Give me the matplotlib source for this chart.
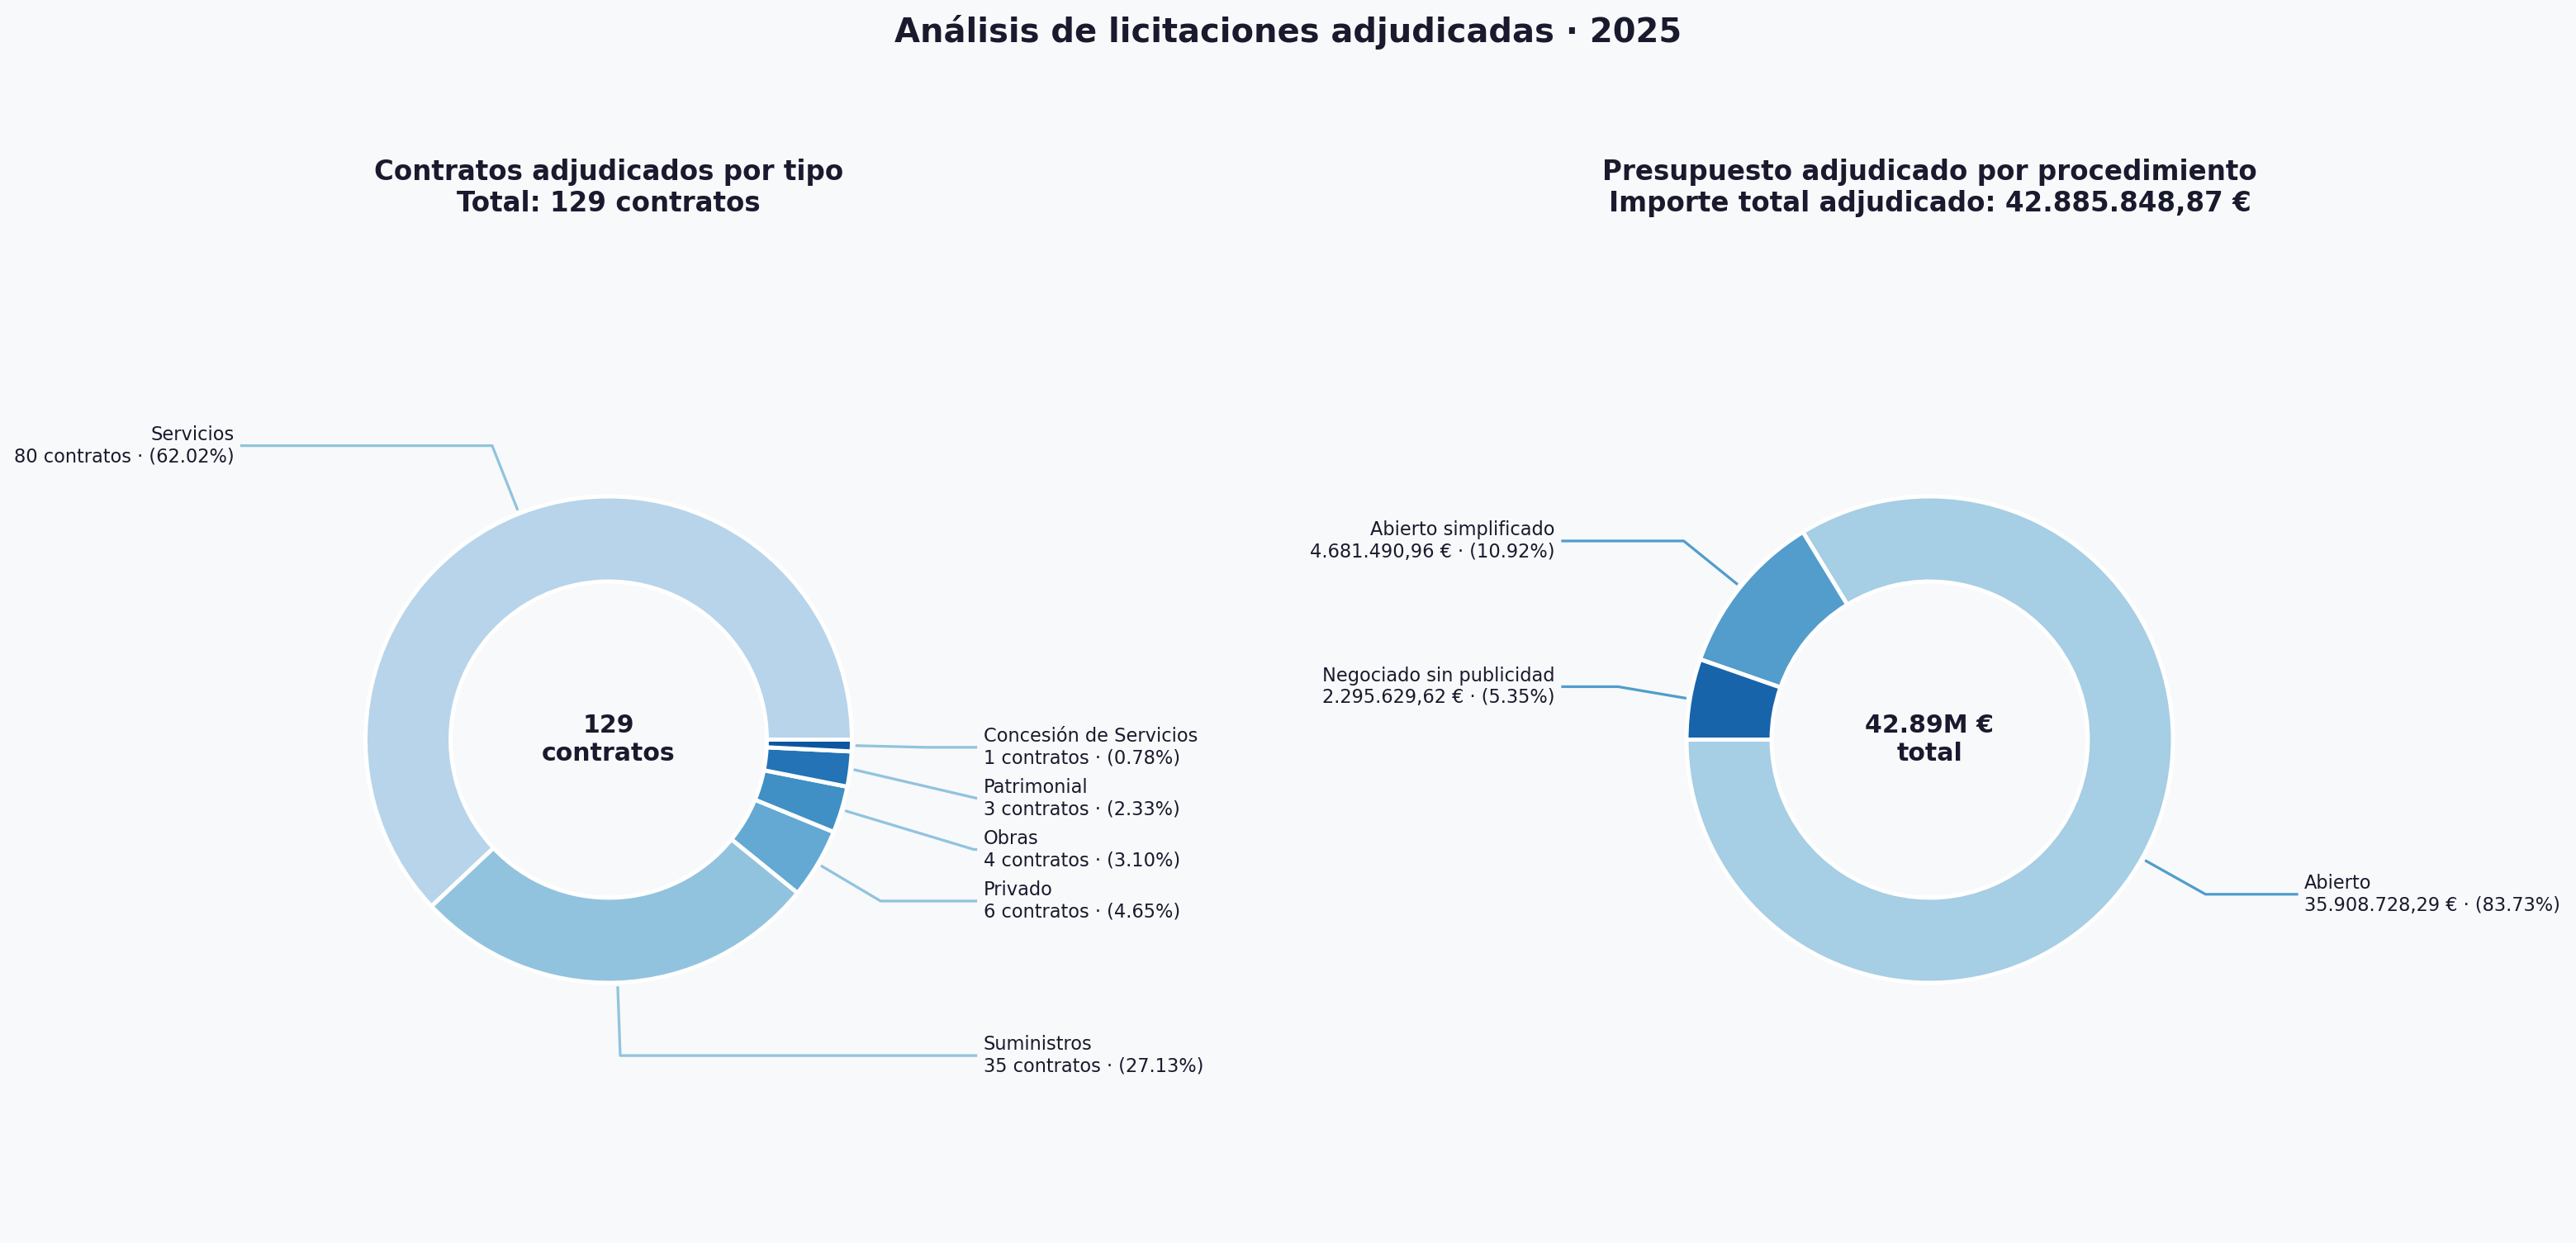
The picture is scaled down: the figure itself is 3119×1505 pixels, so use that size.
import numpy as np
import matplotlib.pyplot as plt

# ── Datos ─────────────────────────────────────────────────────────────────────
tipos = ['Servicios', 'Suministros', 'Privado', 'Obras', 'Patrimonial',
         'Concesión de Servicios']
contratos = [80, 35, 6, 4, 3, 1]

procedimientos = ['Abierto', 'Abierto simplificado', 'Negociado sin publicidad']
importes = [35908728.29, 4681490.96, 2295629.62]

# ── Estilo ────────────────────────────────────────────────────────────────────
BG = '#f8f9fa'
INK = '#1a1a2e'
W, H, DPI = 3119, 1505, 180
R_PX = 294.5          # radio del donut en píxeles
MIN_GAP = 0.21        # separación mínima entre etiquetas (unidades de radio)
XLIM = (-1.25, 1.25)
YLIM = (-1.9, 2.12)

plt.rcParams.update({'font.family': 'DejaVu Sans', 'text.color': INK})


def fmt_eur(v):
    s = f'{v:,.2f}'
    return s.replace(',', 'X').replace('.', ',').replace('X', '.')


def make_axes(fig, cx_px, cy_px):
    """Ejes con aspecto 1:1 centrados en (cx, cy) píxeles desde arriba-izq."""
    w = (XLIM[1] - XLIM[0]) * R_PX
    h = (YLIM[1] - YLIM[0]) * R_PX
    left = cx_px + XLIM[0] * R_PX
    bottom = (H - cy_px) + YLIM[0] * R_PX
    return fig.add_axes([left / W, bottom / H, w / W, h / H])


def donut(ax, values, labels, colors, startangle, center_text, title):
    wedges, _ = ax.pie(values, colors=colors, startangle=startangle,
                       counterclock=True,
                       wedgeprops=dict(width=0.35, edgecolor='white',
                                       linewidth=2))
    ax.set_xlim(*XLIM)
    ax.set_ylim(*YLIM)
    ax.set_aspect('equal')
    ax.axis('off')

    items = []
    for w, lab in zip(wedges, labels):
        ang = (w.theta1 + w.theta2) / 2
        rad = np.deg2rad(ang)
        items.append([ang, np.cos(rad), np.sin(rad), 1.3 * np.sin(rad), lab])

    # separar etiquetas solapadas en cada lado
    for side in (1, -1):
        grp = sorted([it for it in items if np.sign(it[1]) == side],
                     key=lambda it: -it[3])
        for prev, cur in zip(grp, grp[1:]):
            if prev[3] - cur[3] < MIN_GAP:
                cur[3] = prev[3] - MIN_GAP

    line_color = colors[1]
    for ang, x, y, ly, lab in items:
        side = 1 if x >= 0 else -1
        tx = 1.54 * side
        ex = tx - 0.025 * side
        sx, sy = 1.015 * x, 1.015 * y
        t = (ly - sy) / y if abs(y) > 1e-6 else 0.0
        t = max(t, 0.0)
        cx = sx + t * x
        if side * cx > side * ex:
            cx = ex
        ax.plot([sx, cx, ex], [sy, ly, ly], color=line_color, lw=1.3,
                clip_on=False, solid_capstyle='butt', zorder=1)
        ax.text(tx, ly, lab, ha='left' if side > 0 else 'right',
                va='center', fontsize=9, color=INK)

    ax.text(0, 0, center_text, ha='center', va='center', fontsize=12,
            fontweight='bold', color=INK)
    ax.set_title(title, fontsize=13, fontweight='bold', color=INK, pad=6)


fig = plt.figure(figsize=(W / DPI, H / DPI), dpi=DPI, facecolor=BG)

# ── Contratos por tipo ────────────────────────────────────────────────────────
total_c = sum(contratos)
lab_c = [f'{t}\n{n} contratos · ({n / total_c * 100:.2f}%)'
         for t, n in zip(tipos, contratos)]
col_c = plt.cm.Blues(np.linspace(0.3, 0.85, len(contratos)))
ax1 = make_axes(fig, 737, 895.5)
donut(ax1, contratos, lab_c, col_c, 0, f'{total_c}\ncontratos',
      f'Contratos adjudicados por tipo\nTotal: {total_c} contratos')

# ── Presupuesto por procedimiento ─────────────────────────────────────────────
total_i = sum(importes)
lab_i = [f'{p}\n{fmt_eur(v)} € · ({v / total_i * 100:.2f}%)'
         for p, v in zip(procedimientos, importes)]
col_i = plt.cm.Blues(np.linspace(0.35, 0.8, len(importes)))
ax2 = make_axes(fig, 2336.5, 895.5)
donut(ax2, importes, lab_i, col_i, 180, f'{total_i / 1e6:.2f}M €\ntotal',
      f'Presupuesto adjudicado por procedimiento\n'
      f'Importe total adjudicado: {fmt_eur(total_i)} €')

fig.suptitle('Análisis de licitaciones adjudicadas · 2025', fontsize=16,
             fontweight='bold', color=INK, y=0.974, va='center')

fig.savefig('out.png', dpi=DPI, facecolor=BG)
